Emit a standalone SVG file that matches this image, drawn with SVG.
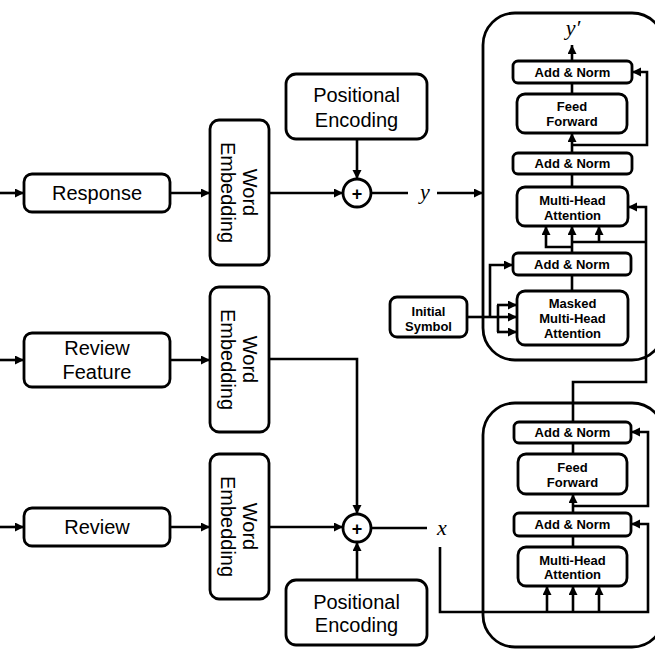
<svg xmlns="http://www.w3.org/2000/svg" width="655" height="655" viewBox="0 0 655 655">
<defs>
<marker id="ah" markerUnits="userSpaceOnUse" markerWidth="10" markerHeight="10" refX="9" refY="4.5" orient="auto">
<path d="M0,0 L9,4.5 L0,9 z" fill="#000"/>
</marker>
<style>
.box{fill:#fff;stroke:#000;stroke-width:2.8}
.blk{fill:none;stroke:#000;stroke-width:2.8}
.ln{fill:none;stroke:#000;stroke-width:2.6}
.ar{fill:none;stroke:#000;stroke-width:2.6;marker-end:url(#ah)}
.t20{font-family:"Liberation Sans",Arial,sans-serif;font-size:20px;text-anchor:middle;fill:#000}
.t13{font-family:"Liberation Sans",Arial,sans-serif;font-size:13px;font-weight:bold;text-anchor:middle;fill:#000}
.m{font-family:"Liberation Serif","Times New Roman",serif;font-style:italic;font-size:22px;text-anchor:middle;fill:#000}
.plus{font-family:"Liberation Sans",Arial,sans-serif;font-size:18px;font-weight:bold;text-anchor:middle;fill:#000}
</style>
</defs>
<rect width="655" height="655" fill="#fff"/>

<g id="connectors">
<line class="ar" x1="0" y1="193" x2="24" y2="193"/>
<line class="ar" x1="0" y1="360" x2="24" y2="360"/>
<line class="ar" x1="0" y1="527" x2="24" y2="527"/>
<line class="ar" x1="170" y1="193" x2="210" y2="193"/>
<line class="ar" x1="170" y1="360" x2="210" y2="360"/>
<line class="ar" x1="170" y1="527" x2="210" y2="527"/>
<line class="ar" x1="270" y1="193" x2="343" y2="193"/>
<line class="ar" x1="357" y1="139" x2="357" y2="179"/>
<line class="ln" x1="371" y1="193" x2="408" y2="193"/>
<line class="ar" x1="437" y1="193" x2="483" y2="193"/>
<polyline class="ar" points="270,359 357,359 357,514"/>
<line class="ar" x1="270" y1="527" x2="343" y2="527"/>
<line class="ar" x1="357" y1="580" x2="357" y2="542"/>
<line class="ln" x1="371" y1="528" x2="427" y2="528"/>
<!-- encoder -->
<polyline class="ar" points="440,547 440,612 648,612 648,524 631,524"/>
<line class="ar" x1="547" y1="612" x2="547" y2="586"/>
<line class="ar" x1="573" y1="612" x2="573" y2="586"/>
<line class="ar" x1="599" y1="612" x2="599" y2="586"/>
<line class="ln" x1="573" y1="547" x2="573" y2="536"/>
<line class="ar" x1="573" y1="513" x2="573" y2="494"/>
<polyline class="ar" points="573,506 648,506 648,432 631,432"/>
<line class="ln" x1="573" y1="454" x2="573" y2="443"/>
<polyline class="ar" points="573,422 573,382 646,382 646,207 628,207"/>
<!-- decoder -->
<line class="ln" x1="572" y1="242" x2="646" y2="242"/>
<line class="ar" x1="599" y1="242" x2="599" y2="226"/>
<line class="ar" x1="572" y1="253" x2="572" y2="226"/>
<polyline class="ar" points="572,247 546,247 546,226"/>
<line class="ln" x1="572" y1="291" x2="572" y2="275"/>
<line class="ln" x1="467" y1="317" x2="498" y2="317"/>
<line class="ln" x1="498" y1="305" x2="498" y2="332"/>
<line class="ar" x1="497" y1="305" x2="517" y2="305"/>
<line class="ar" x1="497" y1="317" x2="517" y2="317"/>
<line class="ar" x1="497" y1="332" x2="517" y2="332"/>
<polyline class="ar" points="490,317 490,265 513,265"/>
<line class="ln" x1="572" y1="187" x2="572" y2="174"/>
<line class="ar" x1="572" y1="153" x2="572" y2="133"/>
<polyline class="ar" points="572,145 647,145 647,72 632,72"/>
<line class="ln" x1="572" y1="94" x2="572" y2="83"/>
<line class="ar" x1="572" y1="61" x2="572" y2="45"/>
</g>

<g id="decoder-block"><rect class="blk" x="483" y="13" width="181" height="347" rx="32"/></g>
<g id="encoder-block"><rect class="blk" x="483" y="403" width="181" height="244" rx="32"/></g>

<g id="response"><rect class="box" x="24" y="174" width="146" height="38" rx="8"/><text class="t20" x="97" y="200">Response</text></g>
<g id="review-feature"><rect class="box" x="24" y="333" width="146" height="54" rx="8"/><text class="t20" x="97" y="355">Review</text><text class="t20" x="97" y="379">Feature</text></g>
<g id="review"><rect class="box" x="24" y="508" width="146" height="38" rx="8"/><text class="t20" x="97" y="534">Review</text></g>

<g id="word-embedding-1"><rect class="box" x="210" y="120" width="59" height="145" rx="9"/>
<g transform="translate(239.5,192.5) rotate(90)"><text class="t20" x="0" y="-3.5">Word</text><text class="t20" x="0" y="18.5">Embedding</text></g></g>
<g id="word-embedding-2"><rect class="box" x="210" y="287" width="59" height="145" rx="9"/>
<g transform="translate(239.5,359.5) rotate(90)"><text class="t20" x="0" y="-3.5">Word</text><text class="t20" x="0" y="18.5">Embedding</text></g></g>
<g id="word-embedding-3"><rect class="box" x="210" y="454" width="59" height="145" rx="9"/>
<g transform="translate(239.5,526.5) rotate(90)"><text class="t20" x="0" y="-3.5">Word</text><text class="t20" x="0" y="18.5">Embedding</text></g></g>

<g id="positional-encoding-top"><rect class="box" x="286" y="74" width="141" height="65" rx="10"/><text class="t20" x="356.5" y="102">Positional</text><text class="t20" x="356.5" y="127">Encoding</text></g>
<g id="positional-encoding-bottom"><rect class="box" x="286" y="580" width="141" height="65" rx="10"/><text class="t20" x="356.5" y="609">Positional</text><text class="t20" x="356.5" y="632">Encoding</text></g>

<g id="add-top"><circle class="box" cx="357" cy="193" r="14"/><text class="plus" x="357" y="199.5">+</text></g>
<g id="add-bottom"><circle class="box" cx="357" cy="528" r="14"/><text class="plus" x="357" y="534.5">+</text></g>

<g id="label-y"><text class="m" x="425" y="199">y</text></g>
<g id="label-x"><text class="m" x="442" y="535">x</text></g>
<g id="label-y-prime"><text class="m" x="573" y="35" font-size="21">y′</text></g>

<g id="dec-addnorm-top"><rect class="box" x="513" y="61" width="119" height="22" rx="5"/><text class="t13" x="572.5" y="76.5">Add &amp; Norm</text></g>
<g id="dec-feed-forward"><rect class="box" x="517" y="94" width="110" height="39" rx="8"/><text class="t13" x="572" y="110.5">Feed</text><text class="t13" x="572" y="125.5">Forward</text></g>
<g id="dec-addnorm-mid"><rect class="box" x="513" y="153" width="119" height="21" rx="5"/><text class="t13" x="572.5" y="168">Add &amp; Norm</text></g>
<g id="dec-mha"><rect class="box" x="517" y="187" width="111" height="39" rx="8"/><text class="t13" x="572.5" y="204.5">Multi-Head</text><text class="t13" x="572.5" y="219.5">Attention</text></g>
<g id="dec-addnorm-low"><rect class="box" x="513" y="253" width="118" height="22" rx="5"/><text class="t13" x="572" y="268.5">Add &amp; Norm</text></g>
<g id="dec-masked-mha"><rect class="box" x="517" y="291" width="111" height="54" rx="8"/><text class="t13" x="572.5" y="307.5">Masked</text><text class="t13" x="572.5" y="322.5">Multi-Head</text><text class="t13" x="572.5" y="337.5">Attention</text></g>
<g id="initial-symbol"><rect class="box" x="390" y="297" width="77" height="40" rx="7"/><text class="t13" x="428.5" y="315.5">Initial</text><text class="t13" x="428.5" y="330.5">Symbol</text></g>

<g id="enc-addnorm-top"><rect class="box" x="514" y="422" width="117" height="21" rx="5"/><text class="t13" x="572.5" y="437">Add &amp; Norm</text></g>
<g id="enc-feed-forward"><rect class="box" x="518" y="454" width="109" height="40" rx="8"/><text class="t13" x="572.5" y="471.5">Feed</text><text class="t13" x="572.5" y="486.5">Forward</text></g>
<g id="enc-addnorm-low"><rect class="box" x="514" y="513" width="117" height="23" rx="5"/><text class="t13" x="572.5" y="529">Add &amp; Norm</text></g>
<g id="enc-mha"><rect class="box" x="518" y="547" width="109" height="39" rx="8"/><text class="t13" x="572.5" y="564.5">Multi-Head</text><text class="t13" x="572.5" y="578.5">Attention</text></g>
</svg>
